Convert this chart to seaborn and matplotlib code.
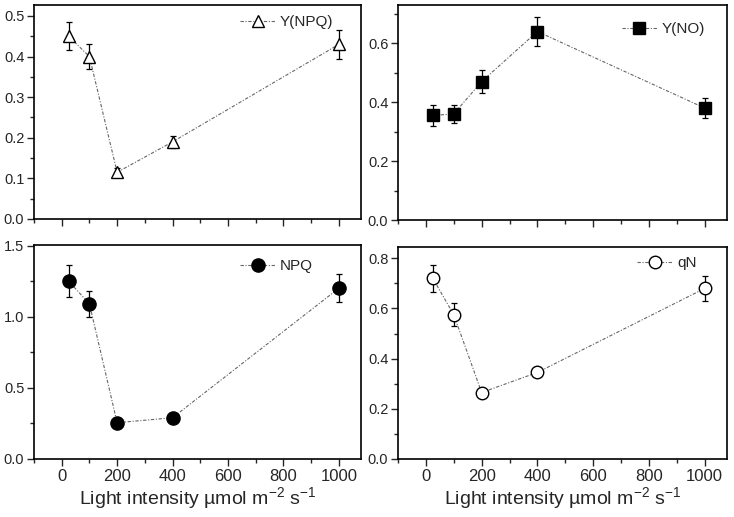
import numpy as np
import pandas as pd
import matplotlib
matplotlib.use("Agg")
import matplotlib.pyplot as plt
from matplotlib.ticker import MultipleLocator
import seaborn as sns

sns.set_style("ticks")
plt.rcParams['font.family'] = ['Liberation Sans', 'DejaVu Sans']

light = [25, 100, 200, 400, 1000]

y_npq = [0.45, 0.40, 0.115, 0.19, 0.43]
y_npq_err = [0.035, 0.03, 0.01, 0.015, 0.035]

y_no = [0.355, 0.36, 0.47, 0.64, 0.38]
y_no_err = [0.035, 0.03, 0.04, 0.05, 0.035]

npq = [1.25, 1.09, 0.255, 0.29, 1.20]
npq_err = [0.11, 0.09, 0.01, 0.01, 0.10]

qn = [0.72, 0.575, 0.265, 0.345, 0.68]
qn_err = [0.055, 0.045, 0.015, 0.02, 0.05]

# name, values, errors, marker, face, size, ymax, major, minor, legend anchor
panels = [
    ("Y(NPQ)", y_npq, y_npq_err, "^", "white", 9, 0.527, 0.1, 0.05, (0.63, 0.92)),
    ("Y(NO)", y_no, y_no_err, "s", "black", 8, 0.73, 0.2, 0.1, (0.68, 0.888)),
    ("NPQ", npq, npq_err, "o", "black", 9.5, 1.504, 0.5, 0.25, (0.63, 0.90)),
    ("qN", qn, qn_err, "o", "white", 9, 0.845, 0.2, 0.1, (0.727, 0.925)),
]

fig = plt.figure(figsize=(7.34, 5.17), dpi=100)
boxes = [
    (34, 5, 361, 219),
    (398, 5, 727, 220),
    (34, 245, 361, 459),
    (398, 247, 727, 459),
]
W, H = 734, 517

for (name, vals, errs, mk, fc, ms, ytop, major, minor, anchor), (x0, y0, x1, y1) in zip(panels, boxes):
    ax = fig.add_axes([x0 / W, 1 - y1 / H, (x1 - x0) / W, (y1 - y0) / H])
    df = pd.DataFrame({"light": light, "val": vals})
    ax.errorbar(light, vals, yerr=errs, fmt="none", ecolor="black",
                elinewidth=0.9, capsize=2.5, capthick=0.9, zorder=2)
    sns.lineplot(data=df, x="light", y="val", ax=ax, color="#666666",
                 linestyle=(0, (3, 1.5, 1, 1.5)), linewidth=0.8,
                 marker=mk, markersize=ms, markerfacecolor=fc,
                 markeredgecolor="black", markeredgewidth=1.0,
                 label=name, zorder=3)
    ax.set_xlim(-100, 1080)
    ax.set_ylim(0, ytop)
    ax.xaxis.set_major_locator(MultipleLocator(200))
    ax.xaxis.set_minor_locator(MultipleLocator(100))
    ax.yaxis.set_major_locator(MultipleLocator(major))
    ax.yaxis.set_minor_locator(MultipleLocator(minor))
    ax.tick_params(which="major", direction="out", length=5, width=1,
                   labelsize=10.5, top=False, right=False, pad=2)
    ax.tick_params(which="minor", direction="out", length=3, width=1,
                   top=False, right=False)
    for s in ax.spines.values():
        s.set_linewidth(1.2)
        s.set_color("black")
    ax.set_ylabel("")
    if y1 < 300:
        ax.set_xticklabels([])
        ax.set_xlabel("")
    else:
        ax.set_xlabel("Light intensity µmol m$^{\\mathregular{-2}}$ s$^{\\mathregular{-1}}$",
                      fontsize=14, labelpad=1)
        ax.tick_params(axis="x", labelsize=12)
    ax.legend(loc="center left", bbox_to_anchor=anchor, frameon=False, fontsize=11,
              handlelength=2.3, handletextpad=0.3, borderaxespad=0, borderpad=0)

fig.savefig("out.png", dpi=100)
